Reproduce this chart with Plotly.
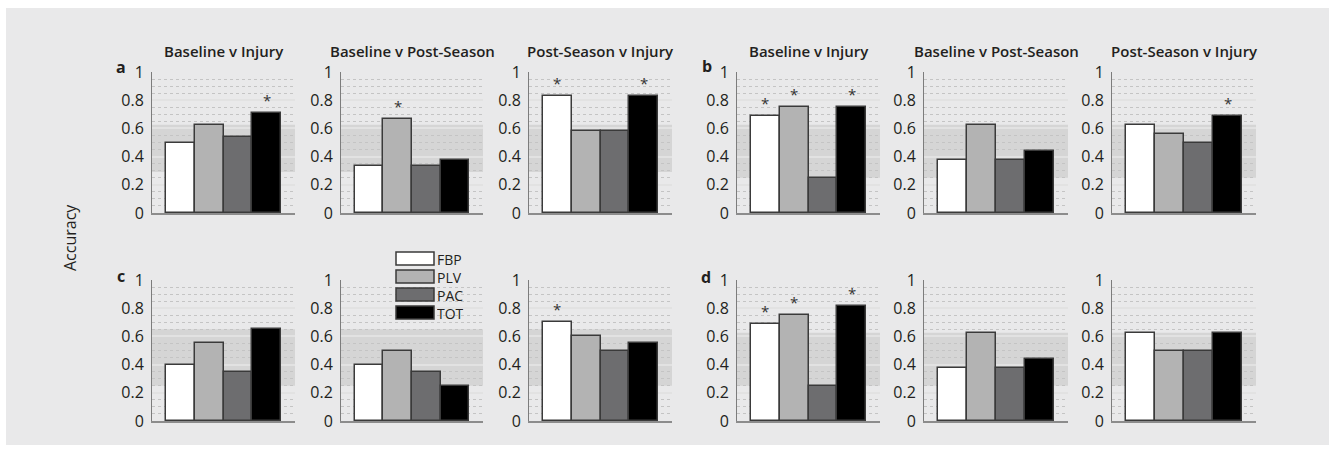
import plotly.graph_objects as go

# ---- data -------------------------------------------------------------
measures = ["FBP", "PLV", "PAC", "TOT"]
comparisons = ["Baseline v Injury", "Baseline v Post-Season", "Post-Season v Injury"]
panel_letters = ["a", "b", "c", "d"]

acc_a = [[0.5, 0.625, 0.542, 0.708], [0.333, 0.667, 0.333, 0.375], [0.833, 0.583, 0.583, 0.833]]
acc_b = [[0.6875, 0.75, 0.25, 0.75], [0.375, 0.625, 0.375, 0.4375], [0.625, 0.5625, 0.5, 0.6875]]
acc_c = [[0.4, 0.55, 0.35, 0.65], [0.4, 0.5, 0.35, 0.25], [0.7, 0.6, 0.5, 0.55]]
acc_d = [[0.6875, 0.75, 0.25, 0.8125], [0.375, 0.625, 0.375, 0.4375], [0.625, 0.5, 0.5, 0.625]]

sig_a = [[0, 0, 0, 1], [0, 1, 0, 0], [1, 0, 0, 1]]
sig_b = [[1, 1, 0, 1], [0, 0, 0, 0], [0, 0, 0, 1]]
sig_c = [[0, 0, 0, 0], [0, 0, 0, 0], [1, 0, 0, 0]]
sig_d = [[1, 1, 0, 1], [0, 0, 0, 0], [0, 0, 0, 0]]

# chance-level interval per panel (lower, upper)
band_a = [0.29, 0.625]
band_b = [0.25, 0.625]
band_c = [0.25, 0.65]
band_d = [0.25, 0.625]

y_ticks = [0, 0.2, 0.4, 0.6, 0.8, 1]

# ---- styling / layout -------------------------------------------------
W, H = 1335, 453
FONT = "Open Sans"
TXT = "#231f20"
bar_colors = ["#ffffff", "#b3b3b3", "#6d6d6f", "#000000"]
edge = "#3a3a3a"

col_px = [(152, 295), (341, 483), (529, 672), (737, 880), (924, 1068), (1112, 1256)]
row_px = [(72, 213), (280, 421)]

panels = [
    (acc_a, sig_a, band_a, 0, 0),
    (acc_b, sig_b, band_b, 0, 3),
    (acc_c, sig_c, band_c, 1, 0),
    (acc_d, sig_d, band_d, 1, 3),
]

fig = go.Figure()
layout = dict(
    width=W, height=H, autosize=False,
    margin=dict(l=0, r=0, t=0, b=0, pad=0, autoexpand=False),
    paper_bgcolor="white",
    plot_bgcolor="white",
    showlegend=False,
    barmode="group",
    bargap=0,
    font=dict(family=FONT, color=TXT),
)
shapes = []
annotations = []

# grey backdrop of the figure
shapes.append(dict(type="rect", xref="paper", yref="paper",
                   x0=6 / W, x1=1329 / W, y0=1 - 445 / H, y1=1 - 8 / H,
                   fillcolor="#e9e9ea", line=dict(width=0), layer="below"))

idx = 0
for acc, sig, band, row, col0 in panels:
    for k in range(3):
        idx += 1
        xa = "x" if idx == 1 else f"x{idx}"
        ya = "y" if idx == 1 else f"y{idx}"
        xl = "xaxis" if idx == 1 else f"xaxis{idx}"
        yl = "yaxis" if idx == 1 else f"yaxis{idx}"
        cx0, cx1 = col_px[col0 + k]
        ry0, ry1 = row_px[row]
        layout[xl] = dict(
            domain=[cx0 / W, cx1 / W], anchor=ya, range=[0.02, 4.98],
            showticklabels=False, ticks="", showgrid=False, zeroline=False,
            showline=True, linecolor="#8c8c8c", linewidth=1.5, fixedrange=True,
            automargin=False,
        )
        layout[yl] = dict(
            domain=[1 - ry1 / H, 1 - ry0 / H], anchor=xa, range=[0, 1],
            tickvals=y_ticks, ticks="", ticklabelstandoff=4,
            tickfont=dict(family=FONT, size=16, color=TXT),
            showgrid=True, gridcolor="#e2e2e2", gridwidth=1.5,
            minor=dict(dtick=0.05, showgrid=True, gridcolor="#c4c4c4",
                       griddash="dot", gridwidth=1),
            zeroline=False, showline=True, linecolor="#7c7c7c", linewidth=1,
            fixedrange=True, automargin=False,
        )
        vals = acc[k]
        fig.add_trace(go.Bar(
            x=[1, 2, 3, 4], y=vals, width=1,
            marker=dict(color=bar_colors, line=dict(color=edge, width=1.5)),
            xaxis=xa, yaxis=ya, hoverinfo="skip",
        ))
        shapes.append(dict(type="rect", xref=f"{xa} domain", yref=ya,
                           x0=0, x1=1, y0=band[0], y1=band[1],
                           fillcolor="#d5d5d5", line=dict(width=0), layer="below"))
        # significance markers above the bars
        for j, s in enumerate(sig[k]):
            if s:
                annotations.append(dict(
                    xref=xa, yref=ya, x=j + 1, y=vals[j], text="*",
                    showarrow=False, yanchor="middle", yshift=13,
                    font=dict(family=FONT, size=15, color="#333333"),
                ))
        if row == 0:
            annotations.append(dict(
                xref="paper", yref="paper", x=(cx0 + cx1) / 2 / W, y=1 - 51 / H,
                text=comparisons[k], showarrow=False, xanchor="center", yanchor="middle",
                font=dict(family=FONT, size=15, color=TXT, weight=600),
            ))

# panel letters
letter_pos = [(121, 67), (707, 66), (121, 276), (706, 277)]
for letter, (px, py) in zip(panel_letters, letter_pos):
    annotations.append(dict(
        xref="paper", yref="paper", x=px / W, y=1 - py / H, text=letter,
        showarrow=False, xanchor="center", yanchor="middle",
        font=dict(family=FONT, size=16, color=TXT, weight="bold"),
    ))

# y-axis title shared by all panels
annotations.append(dict(
    xref="paper", yref="paper", x=70 / W, y=1 - 238 / H, text="Accuracy",
    showarrow=False, textangle=-90, xanchor="center", yanchor="middle",
    font=dict(family=FONT, size=16, color=TXT),
))

# legend: swatches and labels
leg_x0, leg_x1 = 396, 434
leg_top = 252
leg_step = 18
for i, (name, color) in enumerate(zip(measures, bar_colors)):
    y0 = leg_top + i * leg_step
    shapes.append(dict(type="rect", xref="paper", yref="paper",
                       x0=leg_x0 / W, x1=leg_x1 / W, y0=1 - (y0 + 13) / H, y1=1 - y0 / H,
                       fillcolor=color, line=dict(color=edge, width=1.5), layer="above"))
    annotations.append(dict(
        xref="paper", yref="paper", x=(leg_x1 + 1) / W, y=1 - (y0 + 6.5) / H,
        text=name, showarrow=False, xanchor="left", yanchor="middle", height=14,
        font=dict(family=FONT, size=14, color=TXT),
    ))

layout["shapes"] = shapes
layout["annotations"] = annotations
fig.update_layout(**layout)
fig.write_html("out.html", post_script="document.body.style.margin='0';")
